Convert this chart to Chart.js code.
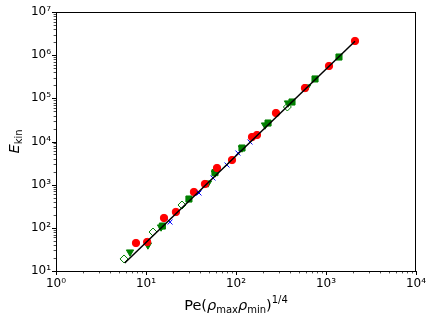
<!DOCTYPE html>
<html>
<head>
<meta charset="utf-8">
<script src="https://cdn.jsdelivr.net/npm/chart.js@4.4.1/dist/chart.umd.min.js"></script>
<style>
  html, body { margin: 0; padding: 0; background: #fff; }
</style>
</head>
<body>
<canvas id="myChart" width="436" height="322"></canvas>
<script>
// values (x = Pe(rho_max rho_min)^1/4, y = E_kin)
const fitX = [5.8, 2100];
const fitY = [15.3, 2.1e6];

const redX = [7.74, 10.3, 15.85, 21.5, 34.1, 45.2, 61.5, 90.3, 150.6, 171, 278, 584, 1080, 2100];
const redY = [44.5, 47, 169, 233, 676, 1036, 2432, 3724, 12700, 14130, 45700, 173000, 561000, 2130000];

const triX = [6.64, 10.5, 14.7, 48.8, 58.4, 116.6, 210, 378, 615];
const triY = [27.5, 40, 104.5, 1092, 1862, 7063, 24100, 78000, 183000];

const sqX = [15.2, 30, 58.4, 116.6, 227, 419, 755, 1394];
const sqY = [110, 465, 1900, 7063, 26800, 82200, 281000, 906000];

const crossX = [18.5, 38.8, 55.5, 79.4, 105, 143];
const crossY = [136, 641, 1426, 2852, 5410, 9727];

const diaX = [5.7, 11.97, 25.1, 372];
const diaY = [19, 80, 338, 63000];

const xDecades = [1, 10, 100, 1000, 10000];
const xTickLabels = ['10\u2070', '10\u00b9', '10\u00b2', '10\u00b3', '10\u2074'];
const yDecades = [10, 100, 1000, 1e4, 1e5, 1e6, 1e7];
const yTickLabels = ['10\u00b9', '10\u00b2', '10\u00b3', '10\u2074', '10\u2075', '10\u2076', '10\u2077'];

function pts(xs, ys) {
    return xs.map((x, i) => ({x: x, y: ys[i]}));
}

function logTicks(decades) {
    var out = [];
    decades.forEach(function(d, i) {
        out.push({value: d, major: true});
        if (i < decades.length - 1) {
            for (var k = 2; k <= 9; k++) out.push({value: d * k, major: false});
        }
    });
    return out;
}

function richText(ctx, parts, x, y) {
    // parts drawn left to right, centred on x, baseline y
    var total = 0;
    parts.forEach(p => { ctx.font = p.font; p.w = ctx.measureText(p.t).width; total += p.w; });
    var cx = x - total / 2;
    ctx.textBaseline = 'alphabetic';
    ctx.textAlign = 'left';
    parts.forEach(p => {
        ctx.font = p.font;
        ctx.fillText(p.t, cx, y + (p.dy || 0));
        cx += p.w;
    });
}

const big = '14.5px "DejaVu Sans"';
const bigIt = 'oblique 14.5px "DejaVu Sans"';
const small = '10px "DejaVu Sans"';

const axisDecor = {
    id: 'axisDecor',
    afterDraw(chart) {
        const ctx = chart.ctx, a = chart.chartArea;
        const xs = chart.scales.x, ys = chart.scales.y;
        ctx.save();
        ctx.strokeStyle = '#000';
        // tick marks, pointing out
        xs.ticks.forEach(t => {
            const px = Math.round(xs.getPixelForValue(t.value)) + 0.5;
            ctx.lineWidth = t.major ? 1 : 0.7;
            ctx.beginPath();
            ctx.moveTo(px, a.bottom);
            ctx.lineTo(px, a.bottom + (t.major ? 4 : 2.4));
            ctx.stroke();
        });
        ys.ticks.forEach(t => {
            const py = Math.round(ys.getPixelForValue(t.value)) + 0.5;
            ctx.lineWidth = t.major ? 1 : 0.7;
            ctx.beginPath();
            ctx.moveTo(a.left, py);
            ctx.lineTo(a.left - (t.major ? 4 : 2.4), py);
            ctx.stroke();
        });
        // box
        ctx.lineWidth = 1;
        ctx.strokeRect(Math.round(a.left) + 0.5, Math.round(a.top) + 0.5,
            Math.round(a.right - a.left) - 1, Math.round(a.bottom - a.top));

        // axis titles
        ctx.fillStyle = '#000';
        richText(ctx, [
            {t: 'Pe(', font: big},
            {t: '\u03c1', font: bigIt},
            {t: 'max', font: small, dy: 3},
            {t: '\u03c1', font: bigIt},
            {t: 'min', font: small, dy: 3},
            {t: ')', font: big},
            {t: '1/4', font: small, dy: -7}
        ], (a.left + a.right) / 2, 310);

        ctx.translate(19, (a.top + a.bottom) / 2);
        ctx.rotate(-Math.PI / 2);
        richText(ctx, [
            {t: 'E', font: bigIt},
            {t: 'kin', font: small, dy: 3}
        ], 0, 0);
        ctx.restore();
    }
};

var ctx = document.getElementById('myChart').getContext('2d');

var chart = new Chart(ctx, {
    type: 'scatter',
    data: {
        datasets: [
            {
                label: 'fit',
                data: pts(fitX, fitY),
                showLine: true,
                borderColor: '#000',
                borderWidth: 1.5,
                pointRadius: 0
            },
            {
                label: 'cross',
                data: pts(crossX, crossY),
                pointStyle: 'crossRot',
                pointRadius: 3.5,
                borderColor: '#0000ff',
                borderWidth: 1
            },
            {
                label: 'red',
                data: pts(redX, redY),
                pointStyle: 'circle',
                pointRadius: 3.7,
                backgroundColor: '#ff0000',
                borderColor: '#ff0000',
                borderWidth: 1
            },
            {
                label: 'square',
                data: pts(sqX, sqY),
                pointStyle: 'rect',
                pointRadius: 4.3,
                backgroundColor: '#008000',
                borderColor: '#008000',
                borderWidth: 1
            },
            {
                label: 'triangle',
                data: pts(triX, triY),
                pointStyle: 'triangle',
                pointRotation: 180,
                pointRadius: 4.2,
                backgroundColor: '#008000',
                borderColor: '#008000',
                borderWidth: 1
            },
            {
                label: 'diamond',
                data: pts(diaX, diaY),
                pointStyle: 'rectRot',
                pointRadius: 4,
                backgroundColor: '#ffffff',
                borderColor: '#008000',
                borderWidth: 1
            }
        ]
    },
    options: {
        responsive: false,
        animation: false,
        events: [],
        layout: { padding: { top: 12, right: 20, left: 0, bottom: 0 } },
        plugins: {
            legend: { display: false },
            tooltip: { enabled: false }
        },
        scales: {
            x: {
                type: 'logarithmic',
                min: 1,
                max: 10000,
                afterBuildTicks: s => { s.ticks = logTicks(xDecades); },
                afterFit: s => { s.height = 51; },
                grid: { drawOnChartArea: false, drawTicks: true, tickLength: 4, tickColor: 'rgba(0,0,0,0)' },
                border: { display: false },
                ticks: {
                    autoSkip: false,
                    maxRotation: 0,
                    padding: 2,
                    color: '#000',
                    font: { family: 'DejaVu Sans', size: 12 },
                    callback: v => { var i = xDecades.indexOf(v); return i >= 0 ? xTickLabels[i] : ''; }
                }
            },
            y: {
                type: 'logarithmic',
                min: 10,
                max: 1e7,
                afterBuildTicks: s => { s.ticks = logTicks(yDecades); },
                afterFit: s => { s.width = 56; },
                grid: { drawOnChartArea: false, drawTicks: true, tickLength: 4, tickColor: 'rgba(0,0,0,0)' },
                border: { display: false },
                ticks: {
                    autoSkip: false,
                    padding: 1,
                    color: '#000',
                    font: { family: 'DejaVu Sans', size: 12 },
                    callback: v => { var i = yDecades.indexOf(v); return i >= 0 ? yTickLabels[i] : ''; }
                }
            }
        }
    },
    plugins: [axisDecor]
});
</script>
</body>
</html>
